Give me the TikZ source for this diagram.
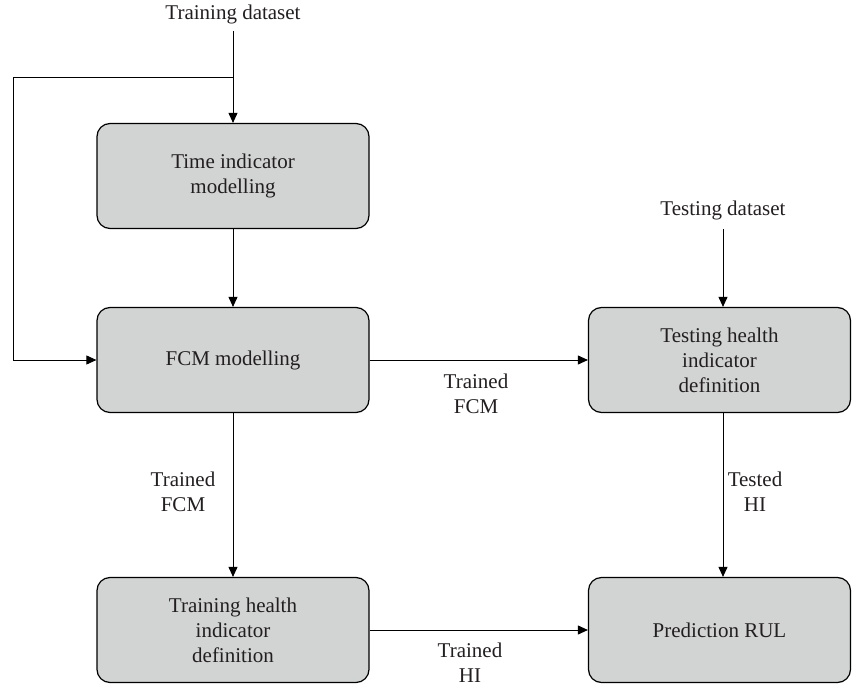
\documentclass[tikz,border=0pt]{standalone}
\usepackage{fontspec}
\setmainfont{Liberation Serif}
\usetikzlibrary{arrows.meta}
\definecolor{boxfill}{HTML}{D2D4D4}
\definecolor{inkgray}{HTML}{231F20}
\begin{document}
\begin{tikzpicture}[x=1pt,y=-1pt,
  txt/.style={font=\fontsize{21}{25}\selectfont, text=inkgray, align=center},
  procbox/.style={txt, draw=black, line width=1.2pt, fill=boxfill,
    rounded corners=13pt, minimum width=#1, minimum height=105pt, inner sep=0pt},
  procbox/.default=272pt,
  flow/.style={draw=black, line width=0.9pt, -{Triangle[length=10pt,width=9pt]}},
  wire/.style={draw=black, line width=0.9pt}]
\useasboundingbox (0,0) rectangle (852,688);

% process boxes
\node[procbox] (tim) at (233,176) {Time indicator\\modelling};
\node[procbox] (fcm) at (233,360) {FCM modelling};
\node[procbox=262pt] (tst) at (719.5,360) {Testing health\\indicator\\definition};
\node[procbox] (trn) at (233,630) {Training health\\indicator\\definition};
\node[procbox=262pt] (prd) at (719.5,630) {Prediction RUL};

% inputs
\node[txt] (trdata) at (233,14) {Training dataset};
\node[txt] (tsdata) at (723,210) {Testing dataset};
\coordinate (split) at (233,77);
\coordinate (loopa) at (13,77);
\coordinate (loopb) at (13,360);

% connectors
\draw[wire] (trdata.south |- 0,31) -- (split);
\draw[flow] (split) -- (tim.north);
\draw[flow] (split) -- (loopa) -- (loopb) -- (fcm.west);
\draw[flow] (tim.south) -- (fcm.north);
\draw[flow] (fcm.east) -- (tst.west);
\draw[flow] (fcm.south) -- (trn.north);
\draw[flow] (tsdata.south |- 0,229) -- ([xshift=3.5pt]tst.north);
\draw[flow] ([xshift=3.5pt]tst.south) -- ([xshift=3.5pt]prd.north);
\draw[flow] (trn.east) -- (prd.west);

% connector labels
\node[txt] (lbla) at (476,394) {Trained\\FCM};
\node[txt] (lblb) at (183,492) {Trained\\FCM};
\node[txt] (lblc) at (755,492) {Tested\\HI};
\node[txt] (lbld) at (470,663) {Trained\\HI};
\end{tikzpicture}
\end{document}
